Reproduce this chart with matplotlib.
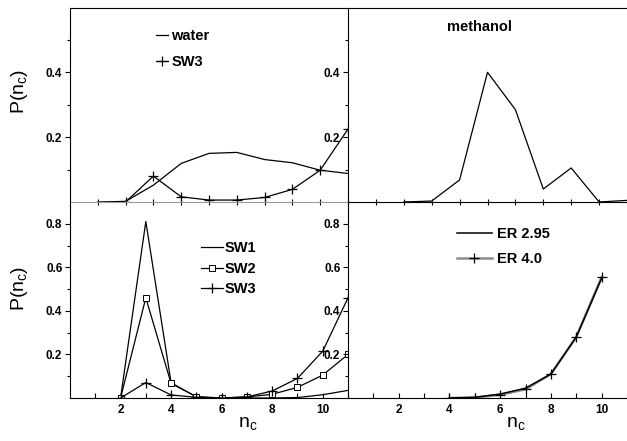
import matplotlib
matplotlib.use("Agg")
import matplotlib.pyplot as plt
from matplotlib.ticker import FixedLocator

plt.rcParams['font.family'] = ['Liberation Sans', 'DejaVu Sans']
plt.rcParams['mathtext.fontset'] = 'custom'
plt.rcParams['mathtext.rm'] = 'Liberation Sans'

# ---- data ----
x_water = [1, 2, 3, 4, 5, 6, 7, 8, 9, 10]
water = [0.0, 0.002, 0.052, 0.119, 0.150, 0.153, 0.131, 0.121, 0.098, 0.088]
x_sw3_top = [2, 3, 4, 5, 6, 7, 8, 9, 10]
sw3_top = [0.0, 0.080, 0.016, 0.006, 0.006, 0.014, 0.039, 0.098, 0.225]

x_meth = [2, 3, 4, 5, 6, 7, 8, 9, 10]
methanol = [0.0, 0.003, 0.068, 0.400, 0.285, 0.040, 0.105, 0.0, 0.005]

x_sw = [2, 3, 4, 5, 6, 7, 8, 9, 10, 11]
sw1 = [0.0, 0.810, 0.070, 0.005, 0.0, 0.0, 0.0, 0.002, 0.015, 0.035]
sw2 = [0.0, 0.460, 0.067, 0.006, 0.0, 0.005, 0.017, 0.049, 0.105, 0.200]
sw3 = [0.0, 0.071, 0.014, 0.003, 0.0, 0.005, 0.032, 0.090, 0.215, 0.460]

x_er = [4, 5, 6, 7, 8, 9, 10]
er295 = [0.0, 0.003, 0.018, 0.045, 0.110, 0.280, 0.550]
er40 = [0.0, 0.002, 0.015, 0.040, 0.110, 0.280, 0.555]

xticks_major = [2, 4, 6, 8, 10]
xticks_minor = [1, 3, 5, 7, 9, 11]

fig = plt.figure(figsize=(6.27, 4.41), dpi=100)
L, M, R = 70 / 627, 348 / 627, 1.0
T, Mi, B = 1 - 7.5 / 441, 1 - 202 / 441, 1 - 398 / 441

ax_tl = fig.add_axes([L, Mi, M - L, T - Mi])
ax_tr = fig.add_axes([M, Mi, R - M, T - Mi])
ax_bl = fig.add_axes([L, B, M - L, Mi - B])
ax_br = fig.add_axes([M, B, R - M, Mi - B])

tickfont = dict(fontsize=8.5, fontweight='bold')
lw = 0.9

def style(ax, top):
    ax.spines['right'].set_visible(False)
    if top:
        ax.set_xlim(0, 10)
        ax.set_ylim(0, 0.6)
        ax.yaxis.set_major_locator(FixedLocator([0.2, 0.4]))
        ax.yaxis.set_minor_locator(FixedLocator([0.1, 0.3, 0.5]))
        ax.tick_params(axis='x', which='both', direction='inout', length=5,
                       labelbottom=False)
    else:
        ax.set_xlim(0, 11)
        ax.set_ylim(0, 0.9)
        ax.spines['top'].set_visible(False)
        ax.yaxis.set_major_locator(FixedLocator([0.2, 0.4, 0.6, 0.8]))
        ax.yaxis.set_minor_locator(FixedLocator([0.1, 0.3, 0.5, 0.7]))
        ax.tick_params(axis='x', which='both', direction='in', length=3.5, pad=4)
    ax.xaxis.set_major_locator(FixedLocator(xticks_major))
    ax.xaxis.set_minor_locator(FixedLocator(xticks_minor))
    ax.tick_params(axis='y', which='major', direction='out', length=3.5, pad=2)
    ax.tick_params(axis='y', which='minor', direction='out', length=2)
    ax.tick_params(axis='both', which='both', width=0.8)
    ax.set_yticklabels([f"{v:.1f}" for v in ax.get_yticks()], **tickfont)
    if not top:
        ax.set_xticklabels([f"{int(v)}" for v in ax.get_xticks()], **tickfont)
    ax.patch.set_alpha(0)

for a, t in [(ax_tl, True), (ax_tr, True), (ax_bl, False), (ax_br, False)]:
    style(a, t)
ax_tl.spines['bottom'].set_color('#9a9a9a')

legfont = dict(size=10.5, weight='bold')

# top-left
ax_tl.plot(x_water, water, color='black', lw=lw, label='water')
ax_tl.plot(x_sw3_top, sw3_top, color='black', lw=lw, marker='+', ms=7, mew=0.9, label='SW3')
ax_tl.legend(loc='upper left', bbox_to_anchor=(0.31, 0.89), frameon=False, prop=legfont,
             handlelength=0.8, handletextpad=0.25, labelspacing=0.85, borderpad=0,
             borderaxespad=0)
ax_tl.set_ylabel('P(n$_\\mathregular{c}$)', fontsize=14)
ax_tl.yaxis.set_label_coords(-0.145, 0.57)

# top-right
ax_tr.plot(x_meth, methanol, color='black', lw=lw)
ax_tr.text(0.47, 0.90, 'methanol', transform=ax_tr.transAxes, ha='center', va='center',
           fontsize=10.5, fontweight='bold')

# bottom-left
ax_bl.plot(x_sw, sw1, color='black', lw=lw, label='SW1')
ax_bl.plot(x_sw, sw2, color='black', lw=lw, marker='s', ms=4, mfc='white', mew=0.7, label='SW2')
ax_bl.plot(x_sw, sw3, color='black', lw=lw, marker='+', ms=7, mew=0.9, label='SW3')
ax_bl.legend(loc='upper left', bbox_to_anchor=(0.47, 0.80), frameon=False, prop=legfont,
             handlelength=1.5, handletextpad=0.15, labelspacing=0.45, borderpad=0,
             borderaxespad=0)
ax_bl.set_ylabel('P(n$_\\mathregular{c}$)', fontsize=14)
ax_bl.yaxis.set_label_coords(-0.145, 0.56)
ax_bl.set_xlabel('n$_\\mathregular{c}$', fontsize=14)
ax_bl.xaxis.set_label_coords(0.64, -0.09)

# bottom-right
ax_br.plot(x_er, er40, color='#8c8c8c', lw=1.8, marker='+', ms=7, mew=0.9, mec='black',
           label='ER 4.0', zorder=2)
ax_br.plot(x_er, er295, color='black', lw=1.1, label='ER 2.95', zorder=3)
h, l = ax_br.get_legend_handles_labels()
ax_br.legend(h[::-1], l[::-1], loc='upper left', bbox_to_anchor=(0.39, 0.87), frameon=False,
             prop=legfont, handlelength=2.4, handletextpad=0.35, labelspacing=0.75,
             borderpad=0, borderaxespad=0)
ax_br.set_xlabel('n$_\\mathregular{c}$', fontsize=14)
ax_br.xaxis.set_label_coords(0.60, -0.09)

fig.savefig('out.png', dpi=100)
